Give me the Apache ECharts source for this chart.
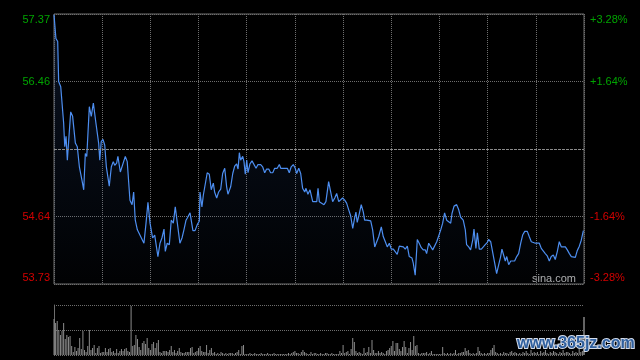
<!DOCTYPE html>
<html>
<head>
<meta charset="utf-8">
<script src="https://cdn.jsdelivr.net/npm/echarts@6/dist/echarts.min.js"></script>
<style>
html,body{margin:0;padding:0;background:#000;}
#chart{width:640px;height:360px;}
</style>
</head>
<body>
<div id="chart"></div>
<script>
// ---- data (HK session, minutes since 09:30, 330 trading minutes) ----
const prevClose = 55.55;
const priceTicks = ['53.73', '54.64', '55.55', '56.46', '57.37'];
const pctTicks = ['-3.28%', '-1.64%', '0.00%', '+1.64%', '+3.28%'];

const minutes = [0,1.2,2.3,2.9,4.2,6.0,6.7,7.5,8.3,9.5,10.4,11.6,13.3,14.5,15.8,17.4,18.5,19.5,20.4,22.0,
23.2,24.5,26.1,27.8,28.5,29.4,30.5,31.6,32.6,34.4,35.7,36.9,37.8,39.0,39.8,41.3,42.3,44.4,45.6,47.3,
48.6,49.6,50.6,51.9,53.1,54.4,56.0,57.3,58.5,59.8,60.6,61.4,62.7,63.5,64.7,66.0,67.2,68.5,69.3,70.5,
71.8,73.0,74.3,75.5,76.8,78.4,79.7,80.9,82.2,
83.0,84.7,85.5,86.5,87.8,89.2,90.5,90.9,92.1,93.0,94.2,95.4,96.7,97.9,99.2,100.0,101.3,102.5,103.8,105.0,
106.3,107.5,108.3,110.0,111.3,112.5,113.7,114.6,115.4,116.2,117.5,118.3,119.1,120.0,120.8,122.0,123.3,124.5,125.8,127.0,
128.7,129.9,131.2,132.4,133.7,134.9,136.2,137.4,139.0,140.3,141.2,143.2,145.3,146.5,147.7,149.0,150.2,151.1,152.4,153.6,
154.8,156.1,156.9,158.1,159.4,161.1,162.3,163.6,164.4,165.2,
166.4,168.1,169.3,170.2,171.0,172.3,173.5,174.8,176.0,177.3,178.5,179.7,181.0,182.2,183.5,184.7,186.0,187.2,188.0,188.8,
190.1,191.3,192.6,193.4,194.7,195.9,197.2,198.4,199.7,200.9,202.2,203.8,205.0,206.3,207.5,208.8,210.0,211.3,212.5,213.7,
215.0,216.2,217.5,218.7,220.0,221.2,222.9,223.7,224.9,226.2,227.4,228.7,229.9,231.2,232.0,233.3,234.5,235.8,237.0,238.3,
239.5,240.8,242.0,243.2,244.5,245.7,247.0,
247.8,249.1,250.7,252.0,253.2,254.8,256.1,256.9,258.2,259.4,260.7,261.5,262.7,263.6,264.8,266.1,267.3,268.5,269.8,270.6,
271.9,273.1,274.4,275.6,276.9,278.1,278.9,279.7,281.0,281.9,283.1,284.4,285.6,286.8,288.1,289.3,290.6,291.8,293.1,294.7,
295.9,297.2,298.4,299.7,300.9,302.2,303.4,304.6,305.9,307.1,308.4,309.6,310.9,312.1,313.4,314.6,315.9,317.1,318.4,319.6,
320.9,322.1,323.3,324.6,325.8,327.1,328.3,329.6];

const prices = [57.36,57.04,57.00,56.46,56.39,55.90,55.58,55.72,55.40,55.40,56.05,55.99,55.63,55.58,55.31,55.13,55.00,55.49,55.45,56.12,
55.99,56.17,55.90,55.63,55.40,55.65,55.68,55.60,55.31,55.05,55.31,55.38,55.33,55.36,55.45,55.24,55.24,55.45,55.38,54.86,
54.80,54.97,54.59,54.46,54.48,54.35,54.28,54.55,54.83,54.55,54.55,54.35,54.39,54.37,54.10,54.28,54.35,54.47,54.17,54.28,
54.26,54.59,54.55,54.77,54.55,54.28,54.35,54.46,54.59,
54.62,54.69,54.68,54.45,54.45,54.53,54.58,54.97,54.77,54.93,54.93,55.23,55.21,55.00,55.09,54.97,54.89,54.97,55.01,55.22,
55.29,55.04,54.94,55.04,55.22,55.32,55.35,55.28,55.50,55.40,55.45,55.38,55.21,55.40,55.23,55.35,55.39,55.37,55.29,55.34,
55.34,55.31,55.23,55.28,55.28,55.23,55.23,55.29,55.29,55.34,55.29,55.29,55.29,55.23,55.31,55.34,55.29,55.22,55.29,55.22,
55.02,54.97,55.02,54.94,55.00,54.84,54.84,54.84,55.02,54.84,
54.84,54.80,54.84,54.84,55.11,54.97,54.84,54.89,54.95,54.84,54.85,54.89,54.86,54.82,54.73,54.65,54.48,54.62,54.70,54.56,
54.68,54.80,54.70,54.59,54.59,54.59,54.58,54.46,54.23,54.24,54.37,54.50,54.37,54.30,54.23,54.28,54.20,54.20,54.19,54.13,
54.24,54.24,54.23,54.20,54.24,54.10,54.08,54.01,53.85,54.33,54.28,54.22,54.19,54.19,54.14,54.28,54.30,54.19,54.20,54.30,
54.32,54.46,54.55,54.69,54.59,54.60,54.55,
54.68,54.78,54.80,54.73,54.63,54.59,54.46,54.26,54.23,54.19,54.32,54.47,54.21,54.42,54.20,54.20,54.23,54.26,54.29,54.33,
54.30,54.29,54.01,53.87,53.99,54.10,54.20,54.19,54.04,54.10,53.99,54.04,54.04,54.04,54.10,54.14,54.28,54.39,54.44,54.44,
54.37,54.30,54.32,54.28,54.26,54.28,54.21,54.19,54.14,54.11,54.04,54.10,54.12,54.06,54.17,54.30,54.23,54.23,54.23,54.19,
54.14,54.10,54.09,54.09,54.18,54.24,54.32,54.45];

// volume per minute (relative units, panel top = 50), index = minute
const volumes = [
36,32,34,25,20,24,32,16,20,18, 19,9,3,8,4,7,17,6,24,5, 3,9,25,5,7,10,2,7,9,2, 3,3,7,3,6,7,3,4,2,6,
2,4,6,4,6,7,4,3,49,9, 10,20,16,8,5,12,14,11,17,7, 5,11,13,7,12,15,3,2,4,4, 4,3,5,9,3,5,2,4,7,3,
2,2,3,3,3,7,8,2,3,4, 7,9,4,3,3,10,2,5,7,2, 3,1,2,1,3,2,1,2,1,2, 2,2,1,2,3,5,1,9,10,1,
1,1,2,1,1,2,1,1,1,2, 1,1,1,2,1,1,1,2,1,1, 1,1,1,1,1,1,2,1,2,3, 4,2,2,1,3,5,3,2,1,1,
3,1,2,2,1,1,2,1,1,2, 2,1,1,2,1,1,1,1,4,2, 10,2,3,4,1,6,17,13,4,2, 3,2,1,7,2,3,8,2,15,5,
2,2,4,2,3,2,1,4,5,7, 9,14,4,12,12,6,4,8,14,8, 2,7,13,5,19,9,10,2,1,2, 2,2,3,1,2,4,1,1,1,1,
1,1,8,2,1,2,1,2,1,2, 5,1,2,2,3,3,7,4,5,2, 1,2,1,2,8,4,2,1,2,1, 2,2,5,7,10,3,2,1,2,1,
3,2,2,1,3,4,2,3,2,1, 2,1,3,2,4,2,1,5,2,3, 2,3,1,4,2,3,5,2,1,3, 2,4,3,2,1,3,2,5,2,3,
3,2,1,4,2,3,2,6,3,4, 38];

// ---- chart ----
const FONT = '"Liberation Sans", Arial, sans-serif';
const GREEN = '#00a400';
const RED = '#d40000';
const GRID_C = '#6e6e6e';
const DOT = [1, 1];

function tickRich() {
  return {
    gt: {color: GREEN, fontSize: 11, fontFamily: FONT, padding: [12, 0, 0, 0]},
    g: {color: GREEN, fontSize: 11, fontFamily: FONT},
    r: {color: RED, fontSize: 11, fontFamily: FONT},
    rb: {color: RED, fontSize: 11, fontFamily: FONT, padding: [0, 0, 12, 0]}
  };
}
function tickFormatter(labels) {
  return function (v) {
    const i = Math.round(v);
    const keys = ['rb', 'r', null, 'g', 'gt'];
    if (!keys[i]) return '';
    return '{' + keys[i] + '|' + labels[i] + '}';
  };
}

const priceData = minutes.map((m, i) => [m, prices[i]]);
const volData = volumes.map((v, i) => (i === 330 ? {value: [i, v], itemStyle: {color: '#c8c8c8'}} : [i, v]));

const chart = echarts.init(document.getElementById('chart'), null, {renderer: 'canvas'});
chart.setOption({
  backgroundColor: '#000',
  animation: false,
  grid: [
    {left: 54, right: 56, top: 14, height: 270, show: true, borderColor: GRID_C, borderWidth: 1},
    {left: 54, right: 56, top: 305, height: 50}
  ],
  xAxis: [
    {gridIndex: 0, type: 'value', min: 0, max: 330, interval: 30,
     axisLine: {show: false}, axisTick: {show: false}, axisLabel: {show: false},
     splitLine: {show: true, lineStyle: {color: GRID_C, type: DOT, width: 1}}},
    {gridIndex: 1, type: 'value', min: 0, max: 330,
     axisLine: {show: false}, axisTick: {show: false}, axisLabel: {show: false}, splitLine: {show: false}}
  ],
  yAxis: [
    {gridIndex: 0, type: 'value', min: 53.73, max: 57.37, show: false, splitLine: {show: false}},
    {gridIndex: 0, type: 'value', min: 0, max: 4, interval: 1, position: 'left',
     axisLine: {show: false}, axisTick: {show: false},
     axisLabel: {margin: 4, formatter: tickFormatter(priceTicks), rich: tickRich()},
     splitLine: {show: true, lineStyle: {color: GRID_C, type: DOT, width: 1}}},
    {gridIndex: 0, type: 'value', min: 0, max: 4, interval: 1, position: 'right',
     axisLine: {show: false}, axisTick: {show: false},
     axisLabel: {margin: 6, formatter: tickFormatter(pctTicks), rich: tickRich()},
     splitLine: {show: false}},
    {gridIndex: 1, type: 'value', min: 0, max: 50, interval: 25,
     axisLine: {show: true, lineStyle: {color: GRID_C, width: 1}}, axisTick: {show: false}, axisLabel: {show: false},
     splitLine: {show: true, lineStyle: {color: GRID_C, type: DOT, width: 1}}}
  ],
  series: [
    {
      type: 'line', xAxisIndex: 0, yAxisIndex: 0, data: priceData,
      showSymbol: false, symbol: 'none',
      lineStyle: {color: '#4d8ef0', width: 1.2},
      areaStyle: {
        origin: 'start',
        color: new echarts.graphic.LinearGradient(0, 0, 0, 1, [
          {offset: 0, color: 'rgba(45,85,160,0.30)'},
          {offset: 1, color: 'rgba(45,85,160,0.03)'}
        ])
      },
      markLine: {
        silent: true, symbol: 'none', label: {show: false},
        lineStyle: {color: '#8a8a8a', type: [3, 1], width: 1},
        data: [{yAxis: prevClose}]
      }
    },
    {
      type: 'bar', xAxisIndex: 1, yAxisIndex: 3, data: volData,
      barWidth: 1, itemStyle: {color: '#8c8c8c'}
    }
  ],
  graphic: [
    {type: 'text', left: 532, top: 273, silent: true,
     style: {text: 'sina.com', fill: '#b0b0b0', font: '11px ' + FONT}},
    {type: 'text', left: 516, top: 335, silent: true, z: 100,
     style: {text: 'www.365jz.com', fill: '#2f5f9e', stroke: '#d4dcea', lineWidth: 2,
             font: 'bold 16px ' + FONT}}
  ]
});
</script>
</body>
</html>
